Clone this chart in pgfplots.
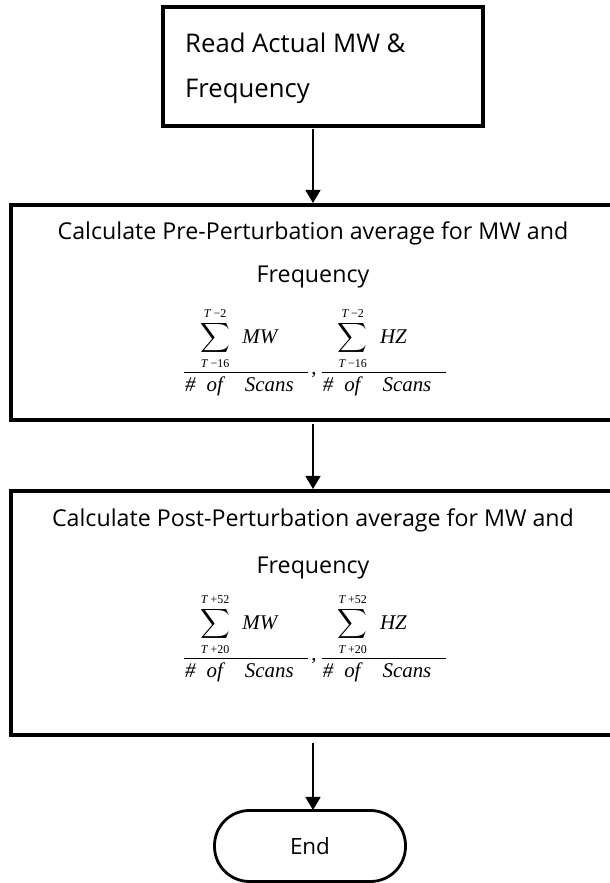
\documentclass[border=0pt]{standalone}
\usepackage{amsmath}
\usepackage{pgfplots}
\pgfplotsset{compat=1.18}
\usetikzlibrary{arrows.meta}
\usepackage{fontspec}
\setmainfont{Open Sans}
\newfontfamily\tms{Liberation Serif}
\newcommand\lm{\tms\fontsize{12}{12}\selectfont}
\newcommand\frm[3]{\frac{\makebox[124bp][l]{\hspace{16bp}$\displaystyle\sum_{\mbox{\lm #2}}^{\mbox{\lm #1}}\hspace{9bp}\mbox{\tms\itshape #3}$}}{\makebox[124bp][l]{\hspace{1bp}\tms\itshape \#\hspace{11bp}of\hspace{22bp}Scans}}}
\begin{document}
\begin{tikzpicture}
\begin{axis}[at={(0,0)},anchor=south west,width=610bp,height=883bp,scale only axis,
  xmin=0,xmax=610,ymin=0,ymax=883,hide axis,clip=true]
% boxes (y measured from the bottom: y = 883 - pixel row)
\addplot[black,line width=3.3bp,line join=miter] coordinates {(163,876)(483,876)(483,757)(163,757)} -- cycle;
\addplot[black,line width=3.3bp,line join=miter] coordinates {(630,678)(11,678)(11,463)(630,463)};
\addplot[black,line width=3.3bp,line join=miter] coordinates {(630,392)(11,392)(11,148)(630,148)};
% arrows
\addplot[black,line width=1.5bp,-{Triangle[length=13bp,width=15bp]}] coordinates {(313,754)(313,680)};
\addplot[black,line width=1.5bp,-{Triangle[length=13bp,width=15bp]}] coordinates {(313,459)(313,394)};
\addplot[black,line width=1.5bp,-{Triangle[length=13bp,width=15bp]}] coordinates {(313,140)(313,73)};
% texts
\node[anchor=base west,inner sep=0,font=\fontsize{25.8}{30}\selectfont] at (axis cs:185,830) {Read Actual MW \&};
\node[anchor=base west,inner sep=0,font=\fontsize{25.8}{30}\selectfont] at (axis cs:185,785) {Frequency};
\node[anchor=base,inner sep=0,font=\fontsize{23.3}{28}\selectfont] at (axis cs:313,643) {Calculate Pre-Perturbation average for MW and};
\node[anchor=base,inner sep=0,font=\fontsize{23.3}{28}\selectfont] at (axis cs:313,600) {Frequency};
\node[anchor=base,inner sep=0,font=\fontsize{21}{25}\selectfont] at (axis cs:315,505.75)
  {$\displaystyle\frm{{\itshape T} −2}{{\itshape T} −16}{MW}\hspace{2bp}\raisebox{3bp}{\tms ,}\hspace{4bp}\frm{{\itshape T} −2}{{\itshape T} −16}{HZ}$};
\node[anchor=base,inner sep=0,font=\fontsize{23.3}{28}\selectfont] at (axis cs:313,356) {Calculate Post-Perturbation average for MW and};
\node[anchor=base,inner sep=0,font=\fontsize{23.3}{28}\selectfont] at (axis cs:313,309) {Frequency};
\node[anchor=base,inner sep=0,font=\fontsize{21}{25}\selectfont] at (axis cs:315,219.75)
  {$\displaystyle\frm{{\itshape T} +52}{{\itshape T} +20}{MW}\hspace{2bp}\raisebox{3bp}{\tms ,}\hspace{4bp}\frm{{\itshape T} +52}{{\itshape T} +20}{HZ}$};
\node[draw,black,line width=2.8bp,rounded corners=35bp,minimum width=191bp,minimum height=71bp,inner sep=0,
  font=\fontsize{22.5}{26}\selectfont] at (axis cs:310,37) {End};
\end{axis}
\pgfresetboundingbox
\path (0,0) rectangle (610bp,883bp);
\end{tikzpicture}
\end{document}
